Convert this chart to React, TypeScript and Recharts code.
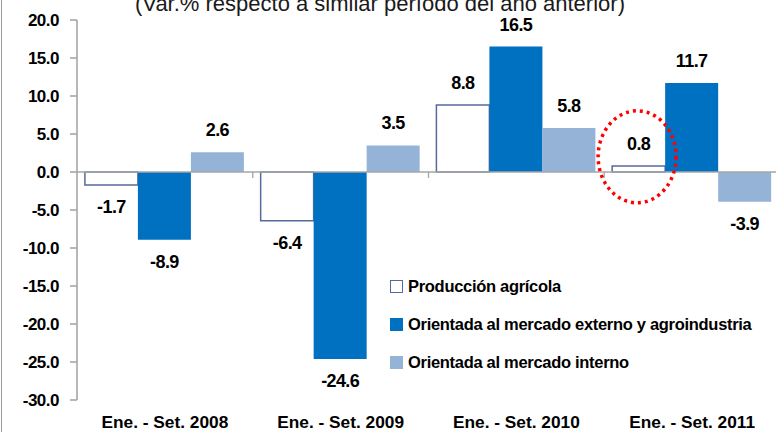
import React from "react";
import {
  BarChart,
  Bar,
  XAxis,
  YAxis,
  LabelList,
  ReferenceLine,
  ReferenceDot,
} from "recharts";

const categories = [
  "Ene. - Set. 2008",
  "Ene. - Set. 2009",
  "Ene. - Set. 2010",
  "Ene. - Set. 2011",
];
const produccionAgricola = [-1.7, -6.4, 8.8, 0.8];
const mercadoExterno = [-8.9, -24.6, 16.5, 11.7];
const mercadoInterno = [2.6, 3.5, 5.8, -3.9];
const yTicks = [-30, -25, -20, -15, -10, -5, 0, 5, 10, 15, 20];
const seriesNames = [
  "Producción agrícola",
  "Orientada al mercado externo y agroindustria",
  "Orientada al mercado interno",
];
const title = "(Var.% respecto a similar período del año anterior)";
const highlightCategory = categories[3];
const highlightValue = 2;

const data = categories.map((c, i) => ({
  cat: c,
  prod: produccionAgricola[i],
  ext: mercadoExterno[i],
  int: mercadoInterno[i],
}));

const FONT = "'Liberation Sans', Arial, sans-serif";
const AXIS_GRAY = "#A6A6A6";
const WHITE_STROKE = "#55699C";
const DARK_BLUE = "#0070C0";
const LIGHT_BLUE = "#95B3D7";

const ValueLabel = (props: any) => {
  const { x, y, width, height, value } = props;
  const v = Number(value);
  const top = Math.min(y, y + height);
  const bottom = Math.max(y, y + height);
  const cy = v >= 0 ? top - 22 : bottom + 22;
  return (
    <text
      x={x + width / 2}
      y={cy}
      textAnchor="middle"
      dominantBaseline="central"
      fontFamily={FONT}
      fontWeight="bold"
      fontSize={18}
      letterSpacing={-0.6}
      fill="#000"
    >
      {v.toFixed(1)}
    </text>
  );
};

const ZeroLine = (props: any) => {
  const { x1, y1, x2 } = props;
  const n = categories.length;
  const step = (x2 - x1) / n;
  const marks = [];
  for (let k = 1; k < n; k++) {
    const xx = x1 + k * step;
    marks.push(
      <line key={k} x1={xx} x2={xx} y1={y1} y2={y1 + 6} stroke={AXIS_GRAY} strokeWidth={1.3} />
    );
  }
  return (
    <g>
      <line x1={x1} x2={x2} y1={y1} y2={y1} stroke={AXIS_GRAY} strokeWidth={1.6} />
      {marks}
    </g>
  );
};

const Highlight = (props: any) => {
  const { cx, cy } = props;
  return (
    <ellipse
      cx={cx - 55}
      cy={cy}
      rx={39}
      ry={46}
      fill="none"
      stroke="#FF0000"
      strokeWidth={3.5}
      strokeDasharray="3 4"
    />
  );
};

const LegendBox = () => {
  const fills = ["#FFFFFF", DARK_BLUE, LIGHT_BLUE];
  const strokes = [WHITE_STROKE, DARK_BLUE, LIGHT_BLUE];
  return (
    <div style={{ position: "absolute", left: 390, top: 267, fontFamily: FONT, zIndex: 3 }}>
      {seriesNames.map((name, i) => (
        <div
          key={name}
          style={{
            display: "flex",
            alignItems: "center",
            height: 38,
            whiteSpace: "nowrap",
          }}
        >
          <div
            style={{
              width: 11,
              height: 11,
              background: fills[i],
              border: `1.5px solid ${strokes[i]}`,
              marginRight: 5,
            }}
          />
          <span style={{ fontSize: 16.5, fontWeight: "bold", letterSpacing: -0.3, color: "#000" }}>
            {name}
          </span>
        </div>
      ))}
    </div>
  );
};

export default function App() {
  return (
    <div
      style={{
        position: "absolute",
        left: 0,
        top: 0,
        width: 776,
        height: 432,
        overflow: "hidden",
        background: "#fff",
      }}
    >
      <div
        style={{
          position: "absolute",
          left: 1,
          top: 0,
          width: 0,
          height: 432,
          borderLeft: "1.5px solid #9a9a9a",
        }}
      />
      <div
        style={{
          position: "absolute",
          left: 0,
          width: 760,
          top: -9,
          textAlign: "center",
          fontFamily: FONT,
          fontSize: 22,
          color: "#1a1a1a",
          whiteSpace: "nowrap",
          zIndex: 2,
        }}
      >
        {title}
      </div>
      <BarChart
        width={800}
        height={432}
        data={data}
        margin={{ top: 20, right: 20, bottom: 2, left: 0 }}
        barCategoryGap="4.5%"
        barGap={0}
      >
        <ReferenceLine y={0} shape={ZeroLine} />
        <XAxis
          dataKey="cat"
          axisLine={false}
          tickLine={false}
          height={30}
          tickSize={0}
          tickMargin={16}
          interval={0}
          tick={{ fill: "#000", fontSize: 17.3, fontWeight: "bold", fontFamily: FONT }}
        />
        <YAxis
          domain={[-30, 20]}
          ticks={yTicks}
          width={77}
          tickSize={7}
          tickMargin={11}
          axisLine={{ stroke: AXIS_GRAY, strokeWidth: 1.6 }}
          tickLine={{ stroke: AXIS_GRAY, strokeWidth: 1.6 }}
          tickFormatter={(v: number) => v.toFixed(1)}
          tick={{ fill: "#000", fontSize: 17, fontWeight: "bold", fontFamily: FONT, letterSpacing: -0.5 }}
          interval={0}
        />
        <Bar
          dataKey="prod"
          name={seriesNames[0]}
          fill="#FFFFFF"
          stroke={WHITE_STROKE}
          strokeWidth={1.5}
          isAnimationActive={false}
        >
          <LabelList dataKey="prod" content={ValueLabel} />
        </Bar>
        <Bar dataKey="ext" name={seriesNames[1]} fill={DARK_BLUE} isAnimationActive={false}>
          <LabelList dataKey="ext" content={ValueLabel} />
        </Bar>
        <Bar dataKey="int" name={seriesNames[2]} fill={LIGHT_BLUE} isAnimationActive={false}>
          <LabelList dataKey="int" content={ValueLabel} />
        </Bar>
        <ReferenceDot x={highlightCategory} y={highlightValue} shape={Highlight} />
      </BarChart>
      <LegendBox />
    </div>
  );
}
